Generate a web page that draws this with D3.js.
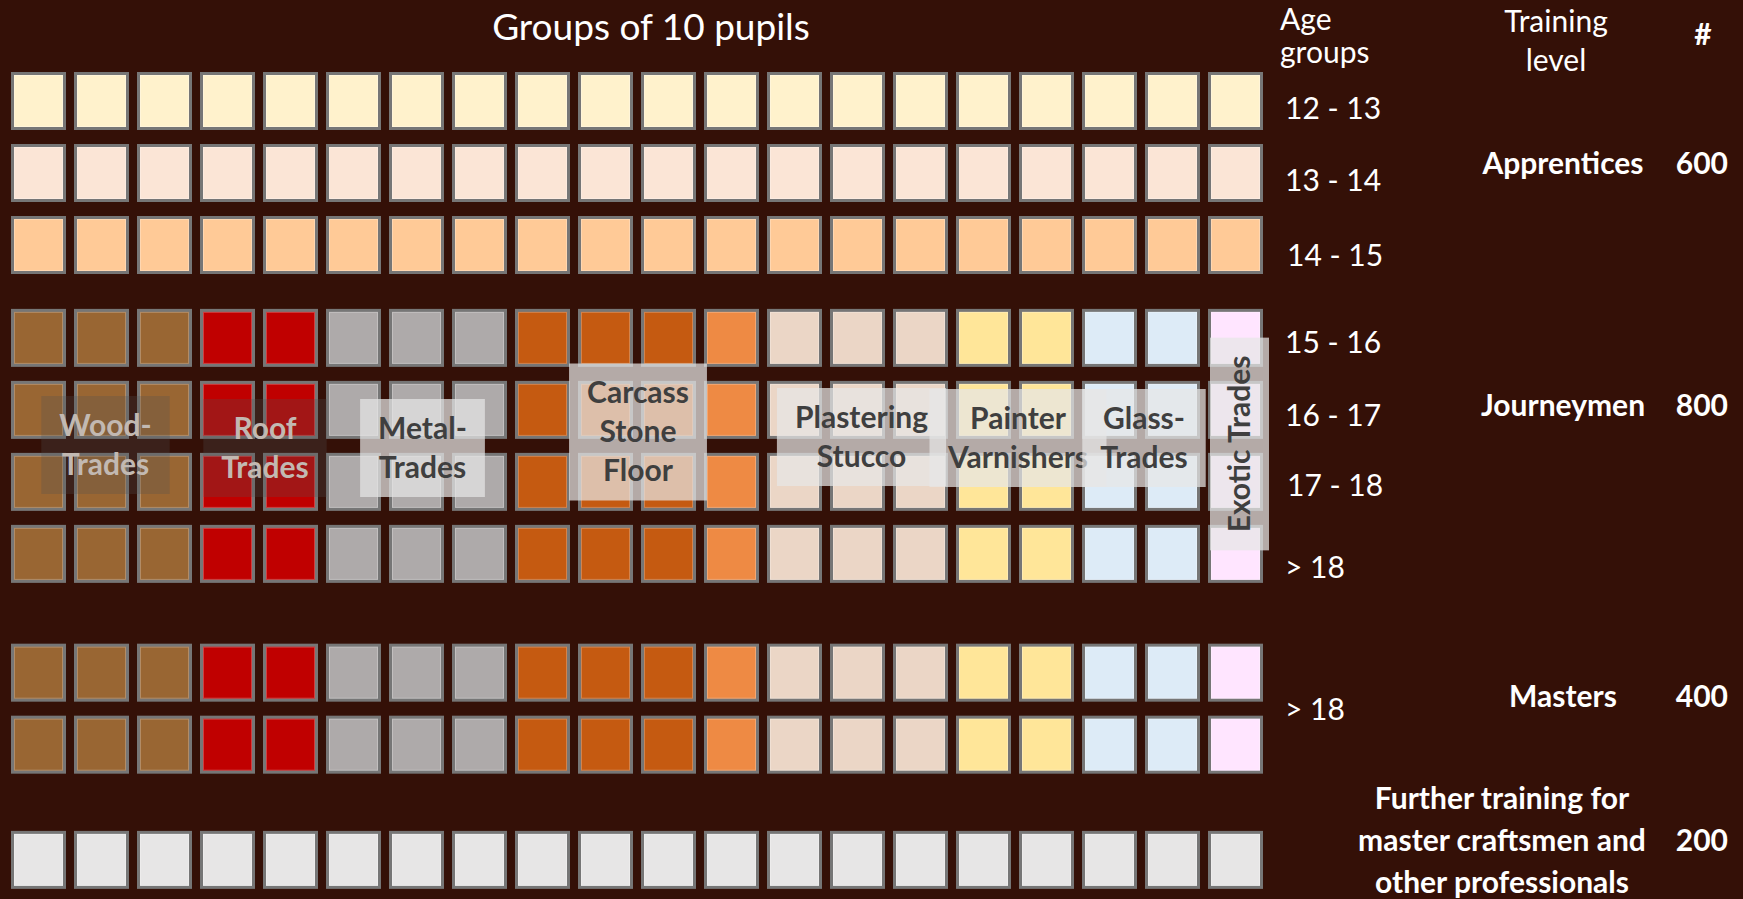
<!DOCTYPE html>
<html><head><meta charset="utf-8">
<script src="https://cdn.jsdelivr.net/npm/d3@7"></script>
<style>html,body{margin:0;padding:0;background:#341007;overflow:hidden}</style>
</head><body>
<svg id="chart" width="1743" height="899"></svg>
<script>
// ---------------- DATA ----------------
const title = "Groups of 10 pupils";
const pupilsPerGroup = 10;
const groupsPerRow = 20;

const levels = ["Apprentices", "Journeymen", "Masters", "Further training for|master craftsmen and|other professionals"];
const levelTotals = [600, 800, 400, 200];
// age labels per level (one label may span several rows)
const levelAgeLabels = [["12 - 13", "13 - 14", "14 - 15"], ["15 - 16", "16 - 17", "17 - 18", "> 18"], ["> 18"], []];

const apprenticeAgeColors = ["#FFF2CC", "#FBE5D6", "#FFCA97"];
const trades = ["Wood", "Roof", "Metal", "Carcass/Stone", "Floor", "Plastering", "Painter", "Glass", "Exotic"];
const tradeGroupCounts = [3, 2, 3, 3, 1, 3, 2, 2, 1];
const tradeColors = ["#996633", "#C00000", "#AEAAAA", "#C55A11", "#EE8A44", "#EBD6C6", "#FFE699", "#DDEBF7", "#FFE5FF"];
const furtherColor = "#E7E6E6";

// trade labels: text lines, first/last trade index covered, dark style
const tradeLabels = [
  {lines: ["Wood-", "Trades"], from: 0, to: 0, dark: true},
  {lines: ["Roof", "Trades"], from: 1, to: 1, dark: true},
  {lines: ["Metal-", "Trades"], from: 2, to: 2, dark: false},
  {lines: ["Carcass", "Stone", "Floor"], from: 3, to: 4, dark: false},
  {lines: ["Plastering", "Stucco"], from: 5, to: 5, dark: false},
  {lines: ["Painter", "Varnishers"], from: 6, to: 6, dark: false},
  {lines: ["Glass-", "Trades"], from: 7, to: 7, dark: false},
  {lines: ["Exotic Trades"], from: 8, to: 8, dark: false, vertical: true}
];

// ---------------- LAYOUT ----------------
const FONT = "Lato, 'Open Sans', sans-serif";
const svg = d3.select("#chart");
svg.append("rect").attr("width", 1743).attr("height", 899).attr("fill", "#341007");

// column colours from trade counts
const columnTrade = [];
tradeGroupCounts.forEach((n, t) => { for (let i = 0; i < n; i++) columnTrade.push(t); });
const columns = d3.range(groupsPerRow);

const x = d3.scaleBand().domain(columns).range([11, 1263]).paddingInner(0.127).paddingOuter(0);

// rows
const levelGapSlots = [0, 0.29, 0.65, 0.6];
const rows = [];
let slot = 0;
levels.forEach((lv, li) => {
  slot += levelGapSlots[li];
  const n = levelTotals[li] / (pupilsPerGroup * groupsPerRow);
  for (let r = 0; r < n; r++) { rows.push({level: li, r, slot}); slot += 1; }
});
const y = d3.scaleLinear().domain([0, 1]).range([72, 144]);
const cellH = 58;

function cellColor(row, c) {
  if (row.level === 0) return apprenticeAgeColors[row.r];
  if (row.level === 3) return furtherColor;
  return tradeColors[columnTrade[c]];
}

const cells = [];
rows.forEach(row => columns.forEach(c => cells.push({row, c})));

const gCells = svg.append("g");
gCells.selectAll("rect.cell").data(cells).join("rect")
  .attr("class", "cell")
  .attr("x", d => x(d.c) + 1.5)
  .attr("y", d => y(d.row.slot) + 1.5)
  .attr("width", x.bandwidth() - 3)
  .attr("height", cellH - 3)
  .attr("fill", d => cellColor(d.row, d.c))
  .attr("stroke", "#767676")
  .attr("stroke-width", 3);
gCells.selectAll("rect.inner").data(cells).join("rect")
  .attr("class", "inner")
  .attr("x", d => x(d.c) + 3.5)
  .attr("y", d => y(d.row.slot) + 3.5)
  .attr("width", x.bandwidth() - 7)
  .attr("height", cellH - 7)
  .attr("fill", "none")
  .attr("stroke", "rgba(255,255,255,0.25)")
  .attr("stroke-width", 1);

// title
svg.append("text").attr("x", x(0) + (x(groupsPerRow - 1) + x.bandwidth() - x(0)) / 2 + 14).attr("y", 40)
  .attr("text-anchor", "middle").attr("font-family", FONT).attr("font-size", 37)
  .attr("fill", "#fff").text(title);

// trade labels
const tradeStart = [], tradeEnd = [];
let acc = 0;
tradeGroupCounts.forEach((n, t) => { tradeStart.push(acc); tradeEnd.push(acc + n - 1); acc += n; });
const labelCenterY = 443;
const lineH = 39;
const labelDy = [2, 5, 5, -11, -6, -5, -5, 1];
const labelDx = [4, 6, 6, 1, 4, 3, 3, 4];
tradeLabels.forEach((L, i) => {
  const cx = (x(tradeStart[L.from]) + x(tradeEnd[L.to]) + x.bandwidth()) / 2 + labelDx[i];
  const cy = labelCenterY + labelDy[i];
  const g = svg.append("g").attr("transform", `translate(${cx},${cy})` + (L.vertical ? " rotate(-90)" : ""));
  const box = g.append("rect");
  const t = g.append("text").attr("text-anchor", "middle").attr("font-family", FONT)
    .attr("font-weight", "bold").attr("font-size", 30)
    .attr("fill", L.dark ? "#C2B9B2" : "#3F3F3F");
  const n = L.lines.length;
  L.lines.forEach((s, k) => {
    t.append("tspan").attr("x", 0).attr("y", (k - (n - 1) / 2) * lineH + 10).text(s);
  });
  const w = t.node().getBBox().width;
  const bw = w + 36, bh = n * lineH + 20;
  box.attr("x", -bw / 2).attr("y", -bh / 2).attr("width", bw).attr("height", bh)
    .attr("fill", L.dark ? "rgba(80,80,80,0.27)" : "rgba(230,230,230,0.72)");
});

// headers on right
const white = "#ffffff";
function txt(xp, yp, s, opts = {}) {
  return svg.append("text").attr("x", xp).attr("y", yp).text(s)
    .attr("font-family", FONT).attr("font-size", opts.size || 30)
    .attr("font-weight", opts.bold ? "bold" : "normal")
    .attr("text-anchor", opts.anchor || "start").attr("fill", white);
}
txt(1280, 30, "Age");
txt(1280, 63, "groups");
txt(1556, 32, "Training", {anchor: "middle"});
txt(1556, 71, "level", {anchor: "middle"});
txt(1703, 45, "#", {anchor: "middle", bold: true});

// age labels
const ageX = 1285;
const ageDy = [[18, 18, 21], [15, 16, 14, 24], [11]];
levels.forEach((lv, li) => {
  const lr = rows.filter(r => r.level === li);
  const labs = levelAgeLabels[li];
  if (!labs.length) return;
  const per = lr.length / labs.length;
  labs.forEach((s, k) => {
    const first = lr[k * per], last = lr[k * per + per - 1];
    const cy = (y(first.slot) + y(last.slot) + cellH) / 2;
    txt(ageX + (s.startsWith("14") || s.startsWith("17") ? 2 : 0), cy + ageDy[li][k], s);
  });
});

// training level labels and totals
const levelDy = [1, -30, -2, -9];
levels.forEach((lv, li) => {
  const lr = rows.filter(r => r.level === li);
  const cy = (y(lr[0].slot) + y(lr[lr.length - 1].slot) + cellH) / 2 + levelDy[li];
  const parts = lv.split("|");
  if (parts.length === 1) {
    txt(1563, cy, lv, {anchor: "middle", bold: true});
  } else {
    parts.forEach((p, k) => txt(1502, cy + (k - 1) * 42, p, {anchor: "middle", bold: true}));
  }
  txt(1728, cy, String(levelTotals[li]), {anchor: "end", bold: true});
});
</script>
</body></html>
